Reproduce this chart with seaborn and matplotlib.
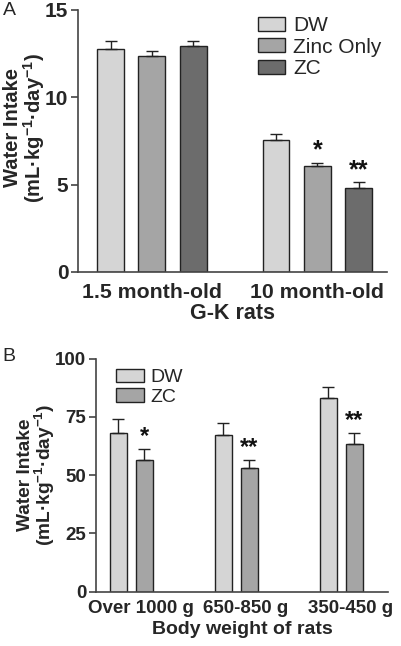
import numpy as np
import pandas as pd
import matplotlib
matplotlib.use('Agg')
import matplotlib.pyplot as plt
import matplotlib.transforms as mtransforms
import seaborn as sns

# Panel A data
age_groups = ['1.5 month-old', '10 month-old']
treat_a = ['DW', 'Zinc Only', 'ZC']
mean_a = {'DW': [12.75, 7.57], 'Zinc Only': [12.36, 6.05], 'ZC': [12.9, 4.83]}
err_a = {'DW': [0.45, 0.31], 'Zinc Only': [0.29, 0.19], 'ZC': [0.3, 0.3]}
stars_a = {'DW': ['', ''], 'Zinc Only': ['', '*'], 'ZC': ['', '**']}

# Panel B data
weight_groups = ['Over 1000 g', '650-850 g', '350-450 g']
treat_b = ['DW', 'ZC']
mean_b = {'DW': [68.1, 67.0, 83.1], 'ZC': [56.6, 53.0, 63.2]}
err_b = {'DW': [5.8, 5.2, 4.8], 'ZC': [4.8, 3.4, 4.8]}
stars_b = {'DW': ['', '', ''], 'ZC': ['*', '**', '**']}

colors_a = ['#d5d5d5', '#a5a5a5', '#6c6c6c']
colors_b = ['#d5d5d5', '#a5a5a5']

sns.set_style('ticks')
plt.rcParams['font.family'] = ['Liberation Sans', 'DejaVu Sans']
plt.rcParams['mathtext.fontset'] = 'custom'
plt.rcParams['mathtext.bf'] = 'Liberation Sans:bold'
plt.rcParams['mathtext.rm'] = 'Liberation Sans'
plt.rcParams['mathtext.default'] = 'bf'
spine_col = '#444444'
ylab = 'Water Intake\n(mL·kg$^{-1}$·day$^{-1}$)'

fig = plt.figure(figsize=(4.01, 6.46), dpi=100)


def panel(ax, groups, treats, means, errs, stars, colors, width, ylim, yticks, xlim,
          star_off, xfs, yfs, star_fs):
    rows = []
    for t in treats:
        for g, v in zip(groups, means[t]):
            rows.append({'group': g, 'treatment': t, 'value': v})
    df = pd.DataFrame(rows)
    sns.barplot(data=df, x='group', y='value', hue='treatment', order=groups, hue_order=treats,
                palette=colors, errorbar=None, width=width, gap=0.35,
                edgecolor='#222222', linewidth=1.0, saturation=1, ax=ax, legend=False)
    for cont, t in zip(ax.containers, treats):
        xs = [p.get_x() + p.get_width() / 2 for p in cont.patches]
        ax.errorbar(xs, means[t], yerr=[np.zeros(len(xs)), errs[t]], fmt='none',
                    ecolor='#222222', elinewidth=1.0, capsize=4, capthick=1.0, zorder=1)
        for x, m, e, s in zip(xs, means[t], errs[t], stars[t]):
            if s:
                ax.text(x, m + e + star_off, s, ha='center', va='bottom', fontsize=star_fs,
                        fontweight='bold', color='#111111')
    ax.set_ylim(*ylim)
    ax.set_yticks(yticks)
    ax.set_xlim(*xlim)
    for sp in ['top', 'right']:
        ax.spines[sp].set_visible(False)
    for sp in ['left', 'bottom']:
        ax.spines[sp].set_color(spine_col)
        ax.spines[sp].set_linewidth(1.2)
    ax.tick_params(axis='y', length=5, width=1.2, color=spine_col, labelsize=yfs, pad=2)
    ax.tick_params(axis='x', length=0, labelsize=xfs)
    for lab in ax.get_xticklabels() + ax.get_yticklabels():
        lab.set_fontweight('bold')
    handles = [plt.Rectangle((0, 0), 1, 1, facecolor=c, edgecolor='#222222', linewidth=1.0)
               for c in colors]
    return handles


# ---- Panel A
ax1 = fig.add_axes([0.1945, 0.579, 0.770, 0.406])
h1 = panel(ax1, age_groups, treat_a, mean_a, err_a, stars_a, colors_a, 0.75,
           (0, 15), [0, 5, 10, 15], (-0.447, 1.42), 0.02, 15.3, 15, 18)
ax1.tick_params(axis='x', pad=8)
ax1.set_ylabel(ylab, fontsize=14.5, fontweight='bold', linespacing=0.95)
ax1.yaxis.set_label_coords(-0.10, 0.55)
ax1.set_xlabel('G-K rats', fontsize=15.5, fontweight='bold', labelpad=1)
ax1.legend(h1, treat_a, loc='upper left', bbox_to_anchor=(0.583, 0.975), frameon=False,
           fontsize=15, handlelength=1.3, handleheight=0.65, handletextpad=0.4,
           labelspacing=0.12, borderpad=0, borderaxespad=0)

# ---- Panel B
ax2 = fig.add_axes([0.2394, 0.084, 0.728, 0.361])
h2 = panel(ax2, weight_groups, treat_b, mean_b, err_b, stars_b, colors_b, 0.495,
           (0, 100), [0, 25, 50, 75, 100], (-0.338, 2.443), 0.3, 13.5, 13.5, 17)
ax2.tick_params(axis='x', pad=6)
shift = mtransforms.ScaledTranslation(0.09, 0, fig.dpi_scale_trans)
for lab in ax2.get_xticklabels():
    lab.set_transform(lab.get_transform() + shift)
ax2.set_ylabel(ylab, fontsize=13.8, fontweight='bold', linespacing=0.95)
ax2.yaxis.set_label_coords(-0.134, 0.5)
ax2.set_xlabel('Body weight of rats', fontsize=14, fontweight='bold', labelpad=3)
ax2.legend(h2, treat_b, loc='upper left', bbox_to_anchor=(0.068, 0.955), frameon=False,
           fontsize=14, handlelength=1.45, handleheight=0.67, handletextpad=0.3,
           labelspacing=0.1, borderpad=0, borderaxespad=0)

fig.text(0.007, 0.997, 'A', fontsize=14, va='top', ha='left')
fig.text(0.007, 0.462, 'B', fontsize=14, va='top', ha='left')

fig.savefig('out.png', dpi=100)
